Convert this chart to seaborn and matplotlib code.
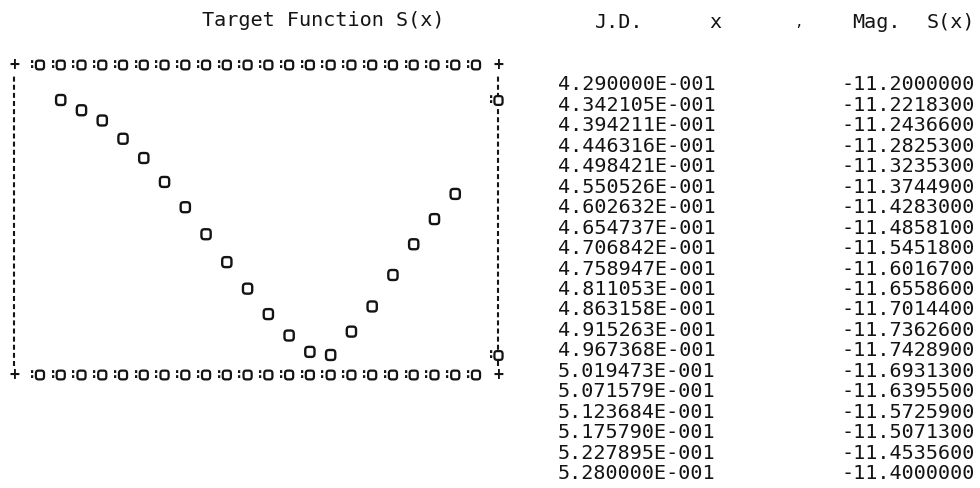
import matplotlib
matplotlib.use("Agg")
import matplotlib.pyplot as plt
import matplotlib.transforms as mtransforms
from matplotlib.path import Path
import numpy as np
import pandas as pd
import seaborn as sns

jd = [0.4290000, 0.4342105, 0.4394211, 0.4446316, 0.4498421,
      0.4550526, 0.4602632, 0.4654737, 0.4706842, 0.4758947,
      0.4811053, 0.4863158, 0.4915263, 0.4967368, 0.5019473,
      0.5071579, 0.5123684, 0.5175790, 0.5227895, 0.5280000]
mag = [-11.2000000, -11.2218300, -11.2436600, -11.2825300, -11.3235300,
       -11.3744900, -11.4283000, -11.4858100, -11.5451800, -11.6016700,
       -11.6558600, -11.7014400, -11.7362600, -11.7428900, -11.6931300,
       -11.6395500, -11.5725900, -11.5071300, -11.4535600, -11.4000000]
title = "Target Function S(x)"
header = ["J.D.", "x", ",", "Mag.", "S(x)"]


def fmt_jd(v):
    m, e = f"{v:.6E}".split("E")
    return f"{m}E{int(e):+04d}"


def fmt_mag(v):
    return f"{v:.7f}"


# dot-matrix style "O": a rounded square (superellipse) outline
t = np.linspace(0, 2 * np.pi, 81)
px = np.sign(np.cos(t)) * np.abs(np.cos(t)) ** 0.5
py = np.sign(np.sin(t)) * np.abs(np.sin(t)) ** 0.5 * 1.08
mk_o = Path(np.column_stack([px, py]), closed=True)

W, H = 980, 488
sns.set_theme(style="white")
plt.rcParams["font.family"] = ["DejaVu Sans Mono", "DejaVu Sans"]
ink = "#141414"

fig = plt.figure(figsize=(W / 100, H / 100), dpi=100)
fig.patch.set_facecolor("white")

# axes frame: x 14..498 px, y 65..375 px
ax = fig.add_axes([14 / W, 1 - 375 / H, 484 / W, 310 / H])
ax.set_facecolor("white")

df = pd.DataFrame({"x": jd, "S": mag})
sns.scatterplot(data=df, x="x", y="S", ax=ax, marker=mk_o, s=52,
                facecolor="none", edgecolor=ink, linewidth=1.7, legend=False)

dx = (jd[-1] - jd[0]) / (len(jd) - 1)
ax.set_xlim(jd[0] - 2.25 * dx, jd[-1] + 2.06 * dx)
ax.set_ylim(-11.7855, -11.1255)
ax.set_xticks([])
ax.set_yticks([])
ax.set_xlabel("")
ax.set_ylabel("")
for s in ax.spines.values():
    s.set_visible(False)

# character-plot style frame: rows of ":o" along top and bottom
cols = [jd[0] + (k - 1) * dx for k in range(len(jd) + 2)]
tx = mtransforms.blended_transform_factory(ax.transData, ax.transAxes)
for yy in (1.0, 0.0):
    ax.scatter(cols, [yy] * len(cols), transform=tx, marker=mk_o, s=40,
               facecolor="none", edgecolor=ink, linewidth=1.6, clip_on=False)
    for c in cols:
        ax.annotate(":", xy=(c, yy), xycoords=tx, xytext=(-8, 1),
                    textcoords="offset pixels", ha="center", va="center",
                    fontsize=10, fontweight="bold", color=ink)

# corners
for (cx, cy) in [(0, 1), (1, 1), (0, 0), (1, 0)]:
    ax.text(cx, cy, "+", transform=ax.transAxes, ha="center", va="center",
            fontsize=12, fontweight="bold", color=ink, clip_on=False)

# dashed vertical borders
for cx in (0.0, 1.0):
    ax.plot([cx, cx], [0.03, 0.97], transform=ax.transAxes, color=ink,
            lw=1.5, ls=(0, (2.4, 1.5)), clip_on=False)

# right-side markers at max/min levels
ty = mtransforms.blended_transform_factory(ax.transAxes, ax.transData)
for lv in (max(mag), min(mag)):
    ax.scatter([1.0], [lv], transform=ty, marker=mk_o, s=40, facecolor="white",
               edgecolor=ink, linewidth=1.6, clip_on=False, zorder=5)
    ax.annotate(":", xy=(1.0, lv), xycoords=ty, xytext=(-7, 1),
                textcoords="offset pixels", ha="center", va="center",
                fontsize=10, fontweight="bold", color=ink)

# title
fs = 14.5
fig.text(202 / W, 1 - 20 / H, title, ha="left", va="center", fontsize=fs, color=ink)

# table header
hy = 1 - 22 / H
fig.text(595 / W, hy, header[0], ha="left", va="center", fontsize=fs, color=ink)
fig.text(715 / W, hy, header[1], ha="center", va="center", fontsize=fs, color=ink)
fig.text(798 / W, hy, header[2], ha="center", va="center", fontsize=fs * 0.7, color=ink)
fig.text(852 / W, hy, header[3], ha="left", va="center", fontsize=fs, color=ink)
fig.text(975 / W, hy, header[4], ha="right", va="center", fontsize=fs, color=ink)

# table rows
for i, (xv, mv) in enumerate(zip(jd, mag)):
    y = 1 - (85 + i * 20.45) / H
    fig.text(558 / W, y, fmt_jd(xv), ha="left", va="center", fontsize=fs, color=ink)
    fig.text(975 / W, y, fmt_mag(mv), ha="right", va="center", fontsize=fs, color=ink)

fig.savefig("out.png", dpi=100, facecolor="white")
